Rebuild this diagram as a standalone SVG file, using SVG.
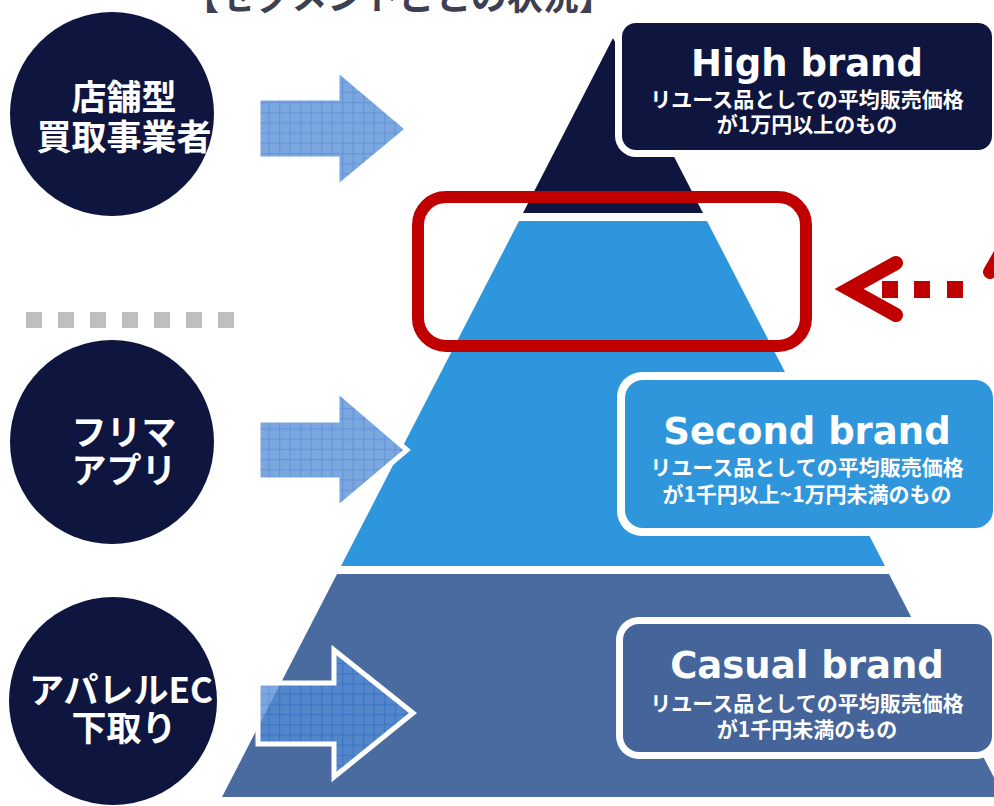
<svg xmlns="http://www.w3.org/2000/svg" width="994" height="806" viewBox="0 0 994 806">
<defs>
<style>
.jp{font-family:"Noto Sans CJK JP","Noto Sans",sans-serif;font-weight:bold;}
.ct{font-size:35px;fill:#ffffff;text-anchor:middle;}
.bt{font-family:"DejaVu Sans","Liberation Sans",sans-serif;font-weight:bold;font-size:37px;fill:#ffffff;text-anchor:middle;}
.st{font-size:21px;fill:#ffffff;text-anchor:middle;}
.circ{fill:#0e1640;}
.dot{fill:#bfbfbf;}
.arrow{fill:url(#grid);fill-opacity:0.78;stroke:#ffffff;stroke-width:5;stroke-linejoin:miter;}
.red{fill:none;stroke:#c00000;}
</style>
<pattern id="grid" patternUnits="userSpaceOnUse" width="10.5" height="10.2" x="258" y="0">
<rect width="10.5" height="10.2" fill="#558ed7"/>
<path d="M0 0.6H10.5M0.6 0V10.2" stroke="#3c78cc" stroke-width="1.3" fill="none"/>
</pattern>
</defs>
<rect width="994" height="806" fill="#ffffff"/>
<text id="title" class="jp" x="399" y="10" font-size="36" fill="#3d4052" text-anchor="middle">【セグメントごとの状況】</text>
<g id="circle-store">
<circle class="circ" cx="112" cy="114" r="102"/>
<text class="jp ct" x="124" y="110">店舗型</text>
<text class="jp ct" x="124" y="150">買取事業者</text>
</g>
<g id="separator">
<rect class="dot" x="26" y="312" width="16" height="16"/>
<rect class="dot" x="58" y="312" width="16" height="16"/>
<rect class="dot" x="90" y="312" width="16" height="16"/>
<rect class="dot" x="122" y="312" width="16" height="16"/>
<rect class="dot" x="154" y="312" width="16" height="16"/>
<rect class="dot" x="186" y="312" width="16" height="16"/>
<rect class="dot" x="218" y="312" width="16" height="16"/>
</g>
<g id="circle-flea">
<circle class="circ" cx="112" cy="442" r="102"/>
<text class="jp ct" x="124" y="445">フリマ</text>
<text class="jp ct" x="124" y="483">アプリ</text>
</g>
<g id="circle-apparel">
<circle class="circ" cx="113" cy="701" r="104"/>
<text class="jp ct" x="121" y="703">アパレルEC</text>
<text class="jp ct" x="124" y="741">下取り</text>
</g>
<g id="pyramid">
<polygon id="layer-high" points="613,38 703,213 523,213" fill="#0e1640"/>
<polygon id="layer-second" points="519,221 707,221 885,566 341,566" fill="#2e96dd"/>
<polygon id="layer-casual" points="337,574 889,574 1004,797 222,797" fill="#4a6ba0"/>
</g>
<g id="box-high">
<rect x="615" y="16" width="384" height="141" rx="21" fill="#ffffff"/>
<rect x="622" y="23" width="370" height="127" rx="14" fill="#0e1640"/>
<text class="bt" x="807" y="76">High brand</text>
<text class="jp st" x="807" y="107">リユース品としての平均販売価格</text>
<text class="jp st" x="807" y="132">が1万円以上のもの</text>
</g>
<g id="box-second">
<rect x="617" y="372" width="384" height="164" rx="25" fill="#ffffff"/>
<rect x="625" y="380" width="368" height="148" rx="18" fill="#2f96dc"/>
<text class="bt" x="807" y="444">Second brand</text>
<text class="jp st" x="807" y="475">リユース品としての平均販売価格</text>
<text class="jp st" x="807" y="502">が1千円以上~1万円未満のもの</text>
</g>
<g id="box-casual">
<rect x="616" y="617" width="383" height="142" rx="23" fill="#ffffff"/>
<rect x="623" y="624" width="369" height="128" rx="16" fill="#44649a"/>
<text class="bt" x="807" y="678">Casual brand</text>
<text class="jp st" x="807" y="711">リユース品としての平均販売価格</text>
<text class="jp st" x="807" y="737">が1千円未満のもの</text>
</g>
<g id="connectors">
<polygon class="arrow" points="258,98 337,98 337,69 408,129 337,188 337,159 258,159"/>
<polygon class="arrow" points="258,420 337,420 337,390 407,450 337,509 337,480 258,480"/>
<polygon class="arrow" points="258,683 334,683 334,650 413,713 334,777 334,744 258,744"/>
<rect class="red" x="418" y="197" width="388" height="149" rx="28" stroke-width="12"/>
<polyline class="red" points="896,263 849,289 896,315" stroke-width="14" stroke-linecap="round" stroke-linejoin="miter"/>
<rect x="882" y="281" width="16" height="17" fill="#c00000"/>
<rect x="914" y="281" width="16" height="17" fill="#c00000"/>
<rect x="947" y="281" width="16" height="17" fill="#c00000"/>
<line class="red" x1="990" y1="272" x2="1012" y2="234" stroke-width="14" stroke-linecap="round"/>
</g>
</svg>
